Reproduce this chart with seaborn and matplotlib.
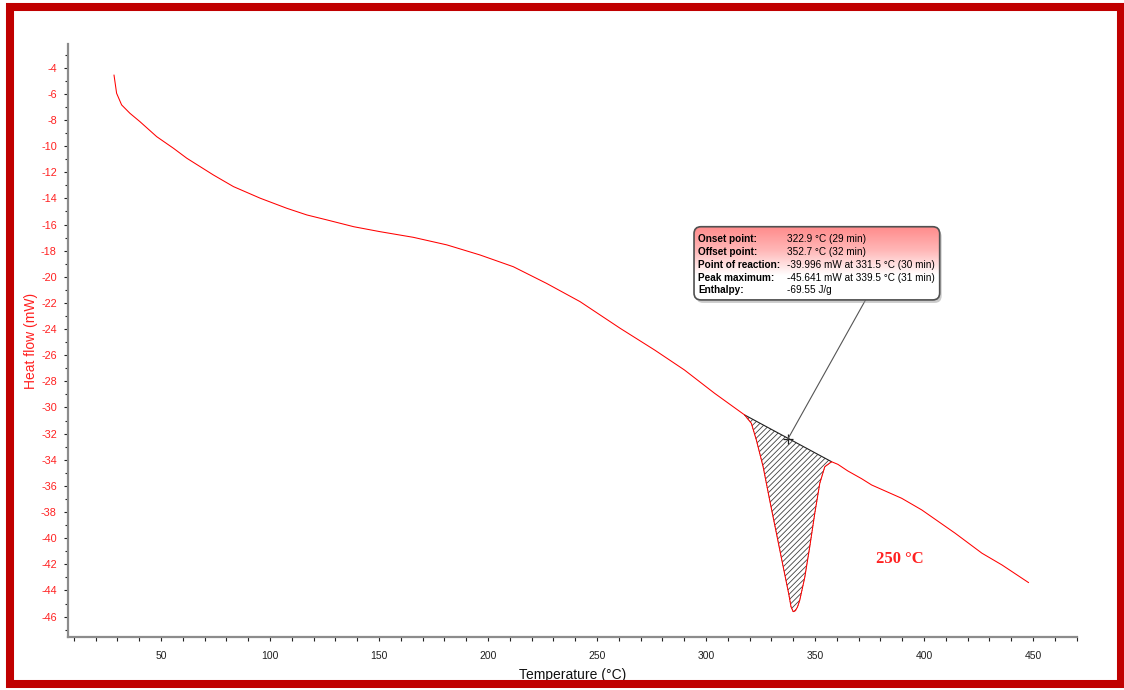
import numpy as np
import pandas as pd
import matplotlib
matplotlib.use("Agg")
import matplotlib.pyplot as plt
import seaborn as sns
from matplotlib.patches import FancyBboxPatch, Rectangle
from matplotlib.ticker import MultipleLocator
from matplotlib.colors import LinearSegmentedColormap

# ---------------- data ----------------
temperature = [28.4, 29.6, 31.9, 35.7, 40.3, 48.0, 55.7, 61.8, 74.0, 83.2, 95.5,
               107.7, 116.9, 126.1, 138.4, 150.5, 165.7, 181.1, 196.3, 211.6,
               226.9, 242.2, 260.6, 276.4, 290.1, 303.9, 317.7,
               320.8, 323.1, 326.2, 329.2, 332.3, 335.4, 338.0, 339.0, 340.0,
               341.0, 342.0, 343.0, 345.3, 347.6, 349.9, 352.2, 354.5, 357.6,
               360.5, 365.0, 371.4, 376.0, 389.8, 399.0, 414.3, 426.6, 435.8, 448.0]
heat_flow = [-4.56, -5.96, -6.85, -7.49, -8.13, -9.28, -10.17, -10.93, -12.21, -13.10, -13.99,
             -14.76, -15.27, -15.65, -16.17, -16.55, -16.98, -17.56, -18.33, -19.23,
             -20.51, -21.90, -23.94, -25.60, -27.13, -28.91, -30.57,
             -31.21, -32.49, -34.53, -37.08, -39.62, -42.18, -44.30, -45.25, -45.62,
             -45.55, -45.25, -44.75, -43.00, -40.65, -38.10, -35.80, -34.53, -34.15,
             -34.35, -34.85, -35.45, -35.93, -36.95, -37.84, -39.62, -41.15, -42.05, -43.40]

peak_start_T, peak_end_T = 317.7, 357.6
baseline_start_hf, baseline_end_hf = -30.57, -34.15
marker_T, marker_hf = 337.5, -32.43

info_labels = ["Onset point:", "Offset point:", "Point of reaction:", "Peak maximum:", "Enthalpy:"]
info_values = ["322.9 °C (29 min)", "352.7 °C (32 min)",
               "-39.996 mW at 331.5 °C (30 min)", "-45.641 mW at 339.5 °C (31 min)",
               "-69.55 J/g"]
sample_label = "250 °C"

x_major = [50, 100, 150, 200, 250, 300, 350, 400, 450]
y_major = list(range(-46, -3, 2))

# ---------------- style ----------------
sns.set_style("white")
plt.rcParams['font.family'] = ['Liberation Sans', 'DejaVu Sans']
plt.rcParams['hatch.linewidth'] = 0.6
plt.rcParams['axes.unicode_minus'] = False

W, H = 1124, 690
fig = plt.figure(figsize=(W / 100, H / 100), dpi=100)
fig.patch.set_facecolor("white")
ax = fig.add_axes([68 / W, (H - 637) / H, (1077 - 68) / W, (637 - 44) / H])

df = pd.DataFrame({"Temperature": temperature, "Heat flow": heat_flow})
sns.lineplot(data=df, x="Temperature", y="Heat flow", ax=ax, color="#ff0000",
             linewidth=0.75, sort=False, zorder=4)

# hatched peak area between curve and straight baseline
T = np.array(temperature)
HF = np.array(heat_flow)
m = (T >= peak_start_T) & (T <= peak_end_T)
segT, segHF = T[m], HF[m]
base = np.interp(segT, [peak_start_T, peak_end_T], [baseline_start_hf, baseline_end_hf])
ax.fill_between(segT, segHF, base, facecolor="none", edgecolor="#404040",
                hatch="//////", linewidth=0, zorder=2)
ax.plot(segT, segHF, color="#202020", lw=0.5, ls=(0, (1, 1.5)), zorder=3)
ax.plot([peak_start_T, peak_end_T], [baseline_start_hf, baseline_end_hf],
        color="#202020", lw=0.8, zorder=3)
ax.plot([marker_T], [marker_hf], marker="+", color="#202020", ms=7, mew=0.9, zorder=5)

# ---------------- annotation box ----------------
bx0, bx1 = 294.5, 407.2
by0, by1 = -21.77, -16.17
xpx = 2.18   # px per x unit
ypx = 13.07  # px per y unit
asp = xpx / ypx
rs = 7 / xpx

ax.plot([373.2, marker_T], [by0, marker_hf], color="#555555", lw=0.8, zorder=5)

shadow = FancyBboxPatch((bx0 + 2 / xpx, by0 - 3 / ypx), bx1 - bx0, by1 - by0,
                        boxstyle=f"round,pad=0,rounding_size={rs}", mutation_aspect=asp,
                        facecolor="#999999", edgecolor="none", alpha=0.5, zorder=6)
ax.add_patch(shadow)
box = FancyBboxPatch((bx0, by0), bx1 - bx0, by1 - by0,
                     boxstyle=f"round,pad=0,rounding_size={rs}", mutation_aspect=asp,
                     facecolor="none", edgecolor="#505050", linewidth=1.2, zorder=8)
ax.add_patch(box)
cmap = LinearSegmentedColormap.from_list("g", ["#ffffff", "#ffffff", "#ffb8b8", "#ff8a8a"])
grad = np.linspace(0, 1, 256).reshape(-1, 1)
img = ax.imshow(grad, cmap=cmap, extent=[bx0, bx1, by0, by1], origin="lower",
                aspect="auto", zorder=7, interpolation="bilinear")
img.set_clip_path(box)

line_y = [-17.13, -18.10, -19.08, -20.06, -21.03]
for lab, val, yy in zip(info_labels, info_values, line_y):
    ax.text(296.3, yy, lab, fontsize=7.2, fontweight="bold", color="black",
            va="center", ha="left", zorder=9)
    ax.text(337.2, yy, val, fontsize=7.2, color="black", va="center", ha="left", zorder=9)

ax.text(388.9, -41.6, sample_label, fontsize=12, fontweight="bold", color="#ff2020",
        family=["Liberation Serif", "DejaVu Serif"], ha="center", va="center", zorder=5)

# ---------------- axes ----------------
ax.set_xlim(7.3, 470.2)
ax.set_ylim(-47.56, -2.19)
ax.set_xticks(x_major)
ax.set_yticks(y_major)
ax.xaxis.set_minor_locator(MultipleLocator(10))
ax.yaxis.set_minor_locator(MultipleLocator(1))
ax.tick_params(axis="both", which="both", direction="out", color="#202020", width=0.8,
               bottom=True, left=True, top=False, right=False)
ax.tick_params(axis="x", which="major", length=3, labelsize=7.5, labelcolor="#202020", pad=7)
ax.tick_params(axis="x", which="minor", length=3)
ax.tick_params(axis="y", which="major", length=3, labelsize=7.8, labelcolor="#ff2020", pad=5)
ax.tick_params(axis="y", which="minor", length=2)
for s in ["top", "right"]:
    ax.spines[s].set_visible(False)
for s in ["left", "bottom"]:
    ax.spines[s].set_color("#8c8c8c")
    ax.spines[s].set_linewidth(1.6)

ax.set_xlabel("Temperature (°C)", fontsize=10, color="#111111", labelpad=5)
ax.set_ylabel("Heat flow (mW)", fontsize=10, color="#ff2020", labelpad=2)

# outer red frame
fig.patches.append(Rectangle((10 / W, (H - 684) / H), (1121 - 10) / W, (684 - 7) / H,
                             transform=fig.transFigure, fill=False,
                             edgecolor="#c00000", linewidth=5.8, zorder=0))

fig.savefig("out.png", dpi=100)
